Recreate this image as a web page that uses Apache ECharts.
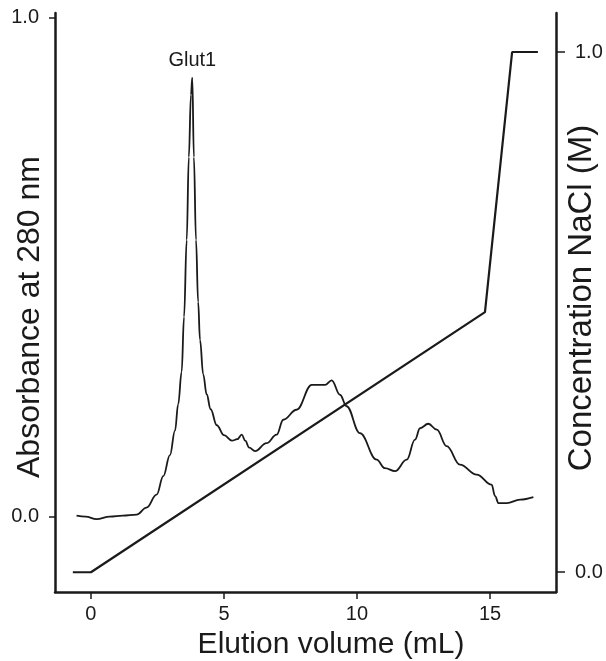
<!DOCTYPE html>
<html>
	<head>
		<meta charset="UTF-8">
		<title>Glut1 elution</title>
		<script src="https://cdn.jsdelivr.net/npm/echarts@6/dist/echarts.min.js"></script>
		<style>
			html, body { margin: 0; padding: 0; background: #fff; }
			#chart { width: 606px; height: 661px; }
		</style>
	</head>
	<body>
		<div id="chart"></div>
		<script>
			// absorbance trace (A280)
			var absVolume = [-0.54, -0.2, 0.21, 0.71, 1.2, 1.72, 2.09, 2.47, 2.72, 2.97, 3.16, 3.28, 3.41, 3.5, 3.6, 3.68, 3.76, 3.81, 3.87, 3.95, 4.03, 4.1, 4.22, 4.35, 4.5, 4.73, 5.0, 5.3, 5.5, 5.67, 5.8, 5.95, 6.17, 6.6, 6.98, 7.23, 7.73, 8.3, 8.8, 9.05, 9.36, 9.61, 10.11, 10.74, 11.05, 11.43, 11.87, 12.18, 12.37, 12.68, 13.0, 13.37, 13.87, 14.5, 15.06, 15.19, 15.32, 15.63, 16.13, 16.63];
			var absValue = [0.002, 0.0, -0.005, 0.0, 0.002, 0.004, 0.018, 0.044, 0.081, 0.123, 0.172, 0.225, 0.29, 0.4, 0.554, 0.72, 0.845, 0.879, 0.72, 0.554, 0.43, 0.354, 0.285, 0.245, 0.215, 0.183, 0.163, 0.152, 0.155, 0.164, 0.152, 0.138, 0.131, 0.147, 0.164, 0.194, 0.214, 0.264, 0.264, 0.273, 0.244, 0.221, 0.167, 0.114, 0.097, 0.091, 0.114, 0.154, 0.177, 0.186, 0.174, 0.141, 0.104, 0.084, 0.064, 0.041, 0.027, 0.027, 0.034, 0.039];

			// NaCl gradient
			var saltVolume = [-0.68, 0, 14.81, 15.83, 16.8];
			var saltConc = [0, 0, 0.5, 1.0, 1.0];

			var xTicks = [0, 5, 10, 15];
			var absTicks = [0, 1];
			var saltTicks = [0, 1];
			var peakName = 'Glut1';

			var absData = absVolume.map(function (v, i) { return [v, absValue[i]]; });
			var saltData = saltVolume.map(function (v, i) { return [v, saltConc[i]]; });
			var peakIdx = absValue.indexOf(Math.max.apply(null, absValue));

			var font = '"Liberation Sans", Arial, sans-serif';
			var ink = '#1a1a1a';

			var chart = echarts.init(document.getElementById('chart'));
			var option = {
				animation: false,
				backgroundColor: '#fff',
				textStyle: { fontFamily: font },
				grid: { left: 55, right: 50, top: 13, bottom: 69 },
				xAxis: {
					type: 'value',
					min: -1.35,
					max: 17.48,
					axisLine: { show: true, onZero: false, lineStyle: { color: ink, width: 2.5 } },
					axisTick: { show: true, length: 7, customValues: xTicks, lineStyle: { color: ink, width: 1.5 } },
					axisLabel: { customValues: xTicks, fontSize: 20, color: ink, fontFamily: font, margin: 12 },
					splitLine: { show: false }
				},
				yAxis: [{
					type: 'value',
					position: 'left',
					min: -0.151,
					max: 1.0086,
					axisLine: { show: true, onZero: false, lineStyle: { color: ink, width: 2.5 } },
					axisTick: { show: true, length: 6, customValues: absTicks, lineStyle: { color: ink, width: 1.5 } },
					axisLabel: { customValues: absTicks, fontSize: 20, color: ink, fontFamily: font, margin: 16,
						formatter: function (v) { return v.toFixed(1); } },
					splitLine: { show: false }
				}, {
					type: 'value',
					position: 'right',
					min: -0.038,
					max: 1.075,
					axisLine: { show: true, onZero: false, lineStyle: { color: ink, width: 2.5 } },
					axisTick: { show: true, length: 9, customValues: saltTicks, lineStyle: { color: ink, width: 1.5 } },
					axisLabel: { customValues: saltTicks, fontSize: 20, color: ink, fontFamily: font, margin: 19,
						formatter: function (v) { return v.toFixed(1); } },
					splitLine: { show: false }
				}],
				graphic: [{
					type: 'text', x: 331, y: 645, silent: true,
					style: { text: 'Elution volume (mL)', fill: ink, font: '30px "Liberation Sans", Arial, sans-serif', align: 'center', verticalAlign: 'middle' }
				}, {
					type: 'text', x: 30, y: 317, rotation: Math.PI / 2, silent: true,
					style: { text: 'Absorbance at 280 nm', fill: ink, font: '32px "Liberation Sans", Arial, sans-serif', align: 'center', verticalAlign: 'middle' }
				}, {
					type: 'text', x: 582, y: 298, rotation: Math.PI / 2, silent: true,
					style: { text: 'Concentration NaCl (M)', fill: ink, font: '33px "Liberation Sans", Arial, sans-serif', align: 'center', verticalAlign: 'middle' }
				}],
				series: [{
					name: 'A280',
					type: 'line',
					yAxisIndex: 0,
					data: absData,
					showSymbol: false,
					symbol: 'none',
					smooth: 0.4,
					smoothMonotone: 'x',
					lineStyle: { color: ink, width: 1.8 },
					markPoint: {
						symbol: 'circle',
						symbolSize: 0,
						silent: true,
						data: [{
							coord: absData[peakIdx],
							label: { show: true, position: 'top', distance: 7, formatter: peakName,
								fontSize: 20, color: ink, fontFamily: font }
						}]
					}
				}, {
					name: 'NaCl',
					type: 'line',
					yAxisIndex: 1,
					data: saltData,
					showSymbol: false,
					symbol: 'none',
					lineStyle: { color: ink, width: 2.2 }
				}]
			};
			chart.setOption(option);
		</script>
	</body>
</html>
